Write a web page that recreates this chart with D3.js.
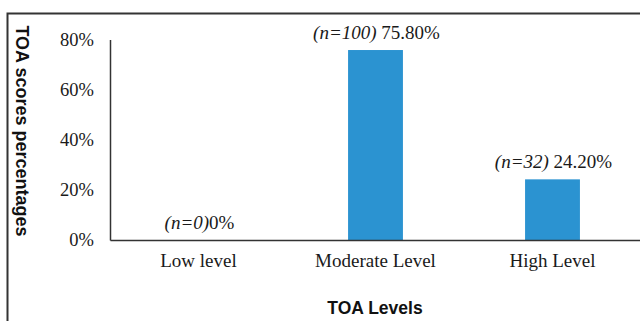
<!DOCTYPE html>
<html><head><meta charset="utf-8">
<script src="https://cdn.jsdelivr.net/npm/d3@7"></script>
<style>html,body{margin:0;padding:0;background:#fff;}svg{display:block;}</style>
</head><body>
<svg id="c" width="640" height="321"></svg>
<script>
const categories = ["Low level", "Moderate Level", "High Level"];
const values = [0, 75.8, 24.2];
const counts = ["(n=0)", "(n=100)", "(n=32)"];
const valueLabels = ["0%", "75.80%", "24.20%"];
const yTicks = [0, 20, 40, 60, 80];

const svg = d3.select("#c");
const serif = "'Liberation Serif','Times New Roman',serif";
const sans = "'Liberation Sans',Arial,sans-serif";

// outer frame
svg.append("rect").attr("x", 7.5).attr("y", 13.5).attr("width", 700).attr("height", 400)
  .attr("fill", "none").attr("stroke", "#333").attr("stroke-width", 2);

const x = d3.scaleBand().domain(categories).range([110, 641]).paddingInner(0.69).paddingOuter(0.345);
const y = d3.scaleLinear().domain([0, 80]).range([240, 39.5]);

// bars
svg.selectAll("rect.bar").data(values).join("rect").attr("class", "bar")
  .attr("x", (d, i) => x(categories[i])).attr("width", x.bandwidth())
  .attr("y", d => y(d)).attr("height", d => y(0) - y(d))
  .attr("fill", "#2b93d1");

// y axis
const ya = svg.append("g").attr("transform", "translate(110,0)")
  .call(d3.axisLeft(y).tickValues(yTicks).tickFormat(d => d + "%").tickSize(0).tickPadding(16));
ya.select(".domain").attr("stroke", "#333").attr("stroke-width", 1.5);
ya.selectAll("text").attr("font-family", serif).attr("font-size", 18.5).attr("fill", "#1a1a1a");

// x axis
const xa = svg.append("g").attr("transform", "translate(0,240)")
  .call(d3.axisBottom(x).tickSize(0).tickPadding(14));
xa.select(".domain").attr("stroke", "#333").attr("stroke-width", 1.5);
xa.selectAll("text").attr("font-family", serif).attr("font-size", 19).attr("fill", "#1a1a1a");

// value labels
const lbl = svg.selectAll("text.vl").data(values).join("text").attr("class", "vl")
  .attr("x", (d, i) => x(categories[i]) + x.bandwidth() / 2 + 1)
  .attr("y", d => y(d) - 11)
  .attr("text-anchor", "middle").attr("font-family", serif).attr("font-size", 19).attr("fill", "#1a1a1a");
lbl.append("tspan").attr("font-style", "italic").text((d, i) => counts[i]);
lbl.append("tspan").text((d, i) => (i === 0 ? "" : " ") + valueLabels[i]);

// axis titles
svg.append("text").attr("x", 375).attr("y", 314).attr("text-anchor", "middle")
  .attr("font-family", sans).attr("font-weight", "bold").attr("font-size", 17.5).attr("fill", "#111")
  .text("TOA Levels");
svg.append("text").attr("transform", "translate(16,131) rotate(90)").attr("text-anchor", "middle")
  .attr("font-family", sans).attr("font-weight", "bold").attr("font-size", 18).attr("fill", "#111")
  .text("TOA scores percentages");
</script>
</body></html>
